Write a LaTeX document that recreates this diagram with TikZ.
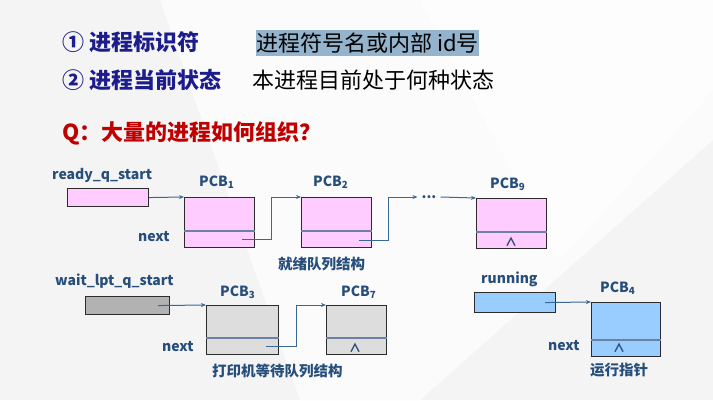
\documentclass[tikz,border=0pt]{standalone}
\usepackage{fontspec}
\setmainfont{Noto Sans CJK SC}
\usetikzlibrary{arrows.meta}

\definecolor{bgcol}{HTML}{F4F4F4}
\definecolor{facet}{HTML}{FBFBFB}
\definecolor{navy}{HTML}{1C1C8C}
\definecolor{qred}{HTML}{C00000}
\definecolor{hilite}{HTML}{94B3CC}
\definecolor{lblblue}{HTML}{274E7B}
\definecolor{linkblue}{HTML}{3A6894}
\definecolor{divcol}{HTML}{6A80A6}
\definecolor{boxline}{HTML}{2B2B2B}
\definecolor{pinkfill}{HTML}{FFCCFF}
\definecolor{greyfill}{HTML}{B2B2B2}
\definecolor{lightgrey}{HTML}{DDDDDD}
\definecolor{bluefill}{HTML}{99CCFF}

\tikzset{
  heading/.style={font=\fontsize{22}{26}\selectfont\bfseries, anchor=west, inner sep=0},
  plain/.style={font=\fontsize{22}{26}\selectfont, anchor=west, inner sep=0},
  lbl/.style={font=\fontsize{14}{16}\selectfont\bfseries, text=lblblue, anchor=west, inner sep=0},
  caption/.style={font=\fontsize{14.5}{17}\selectfont\bfseries, text=lblblue, anchor=west, inner sep=0},
  nullmark/.style={font=\fontsize{12}{13}\selectfont\bfseries, text=lblblue, inner sep=0},
  ptrbox/.style={draw=boxline, line width=1.1pt, anchor=north west, inner sep=0},
  pcbbox/.style={draw=boxline, line width=1.1pt, anchor=north west, inner sep=0},
  divider/.style={draw=divcol, line width=1.1pt},
  link/.style={draw=linkblue, line width=1pt, -{Stealth[length=5pt,width=4pt]}}
}

\newcommand{\pcbname}[1]{PCB\textsubscript{#1}}

\begin{document}
\begin{tikzpicture}[x=1pt,y=-1pt]
\useasboundingbox (0,0) rectangle (713,400);
% soft faceted backdrop
\fill[bgcol] (0,0) rectangle (713,400);
\fill[facet] (160,0) -- (713,0) -- (713,140) -- (420,400) -- (300,400) -- cycle;
\fill[white, opacity=0.6] (420,0) -- (713,0) -- (713,90) -- (560,260) -- cycle;

% header lines
\node[heading, text=navy] (h1) at (62,42) {① 进程标识符};
\node[plain, fill=hilite, inner xsep=0, inner ysep=3pt] (h1v) at (256,43) {进程符号名或内部 id号};
\node[heading, text=navy] (h2) at (62,80) {② 进程当前状态};
\node[plain] (h2v) at (252,80) {本进程目前处于何种状态};
\node[heading, text=qred] (q) at (62,133) {Q：大量的进程如何组织？};

% ready queue
\node[lbl] (rqlbl) at (52,175) {ready\_q\_start};
\node[ptrbox, fill=pinkfill, minimum width=81pt, minimum height=18pt] (rq) at (67,188) {};
\node[pcbbox, fill=pinkfill, minimum width=70pt, minimum height=50pt] (p1) at (184,197) {};
\node[pcbbox, fill=pinkfill, minimum width=70pt, minimum height=50pt] (p2) at (301,197) {};
\node[pcbbox, fill=pinkfill, minimum width=70pt, minimum height=50pt] (p9) at (476,198) {};
\draw[divider] ([yshift=-34pt]p1.north west) -- ([yshift=-34pt]p1.north east);
\draw[divider] ([yshift=-34pt]p2.north west) -- ([yshift=-34pt]p2.north east);
\draw[divider] ([yshift=-34pt]p9.north west) -- ([yshift=-34pt]p9.north east);
\node[lbl] (p1lbl) at (199,182) {\pcbname{1}};
\node[lbl] (p2lbl) at (313,182) {\pcbname{2}};
\node[lbl] (p9lbl) at (490,184) {\pcbname{9}};
\node[lbl] (nx1) at (138,237) {next};
\node[nullmark] (nul9) at (511,242) {∧};
\node[lbl, anchor=center, inner xsep=4pt] (dots) at (429,197) {...};
\node[caption] (cap1) at (278,264) {就绪队列结构};

\coordinate (n1) at (242,239);
\coordinate (n2) at (359,240);
\draw[link] (rq.east) -- (p1.north west);
\draw[link] (n1) -- ++(29,0) |- (p2.north west);
\draw[link] (n2) -- ++(29,0) |- (dots.west);
\draw[link] (dots.east) -- (p9.north west);

% printer wait queue
\node[lbl] (wqlbl) at (55,281) {wait\_lpt\_q\_start};
\node[ptrbox, fill=greyfill, minimum width=84pt, minimum height=18pt] (wq) at (85,296) {};
\node[pcbbox, fill=lightgrey, minimum width=72pt, minimum height=49pt] (p3) at (206,305) {};
\node[pcbbox, fill=lightgrey, minimum width=60pt, minimum height=49pt] (p7) at (326,305) {};
\draw[divider] ([yshift=-33pt]p3.north west) -- ([yshift=-33pt]p3.north east);
\draw[divider] ([yshift=-33pt]p7.north west) -- ([yshift=-33pt]p7.north east);
\node[lbl] (p3lbl) at (220,292) {\pcbname{3}};
\node[lbl] (p7lbl) at (341,292) {\pcbname{7}};
\node[lbl] (nx3) at (162,347) {next};
\node[nullmark] (nul7) at (355,348) {∧};
\node[caption] (cap2) at (212,371) {打印机等待队列结构};

\coordinate (w0) at ([xshift=-12pt]wq.east);
\coordinate (n3) at (266,346);
\draw[link] (w0) -- (p3.north west);
\draw[link] (n3) -- ++(30,0) |- (p7.north west);

% running pointer
\node[lbl] (rnlbl) at (481,279) {running};
\node[ptrbox, fill=bluefill, minimum width=81pt, minimum height=20pt] (rb) at (474,292) {};
\node[pcbbox, fill=bluefill, minimum width=69pt, minimum height=54pt] (p4) at (591,302) {};
\draw[divider] ([yshift=-38pt]p4.north west) -- ([yshift=-38pt]p4.north east);
\node[lbl] (p4lbl) at (600,288) {\pcbname{4}};
\node[lbl] (nx4) at (548,346) {next};
\node[nullmark] (nul4) at (619,348) {∧};
\node[caption] (cap3) at (590,370) {运行指针};

\coordinate (r0) at ([xshift=-11pt]rb.east);
\draw[link] (r0) -- (p4.north west);
\end{tikzpicture}
\end{document}
